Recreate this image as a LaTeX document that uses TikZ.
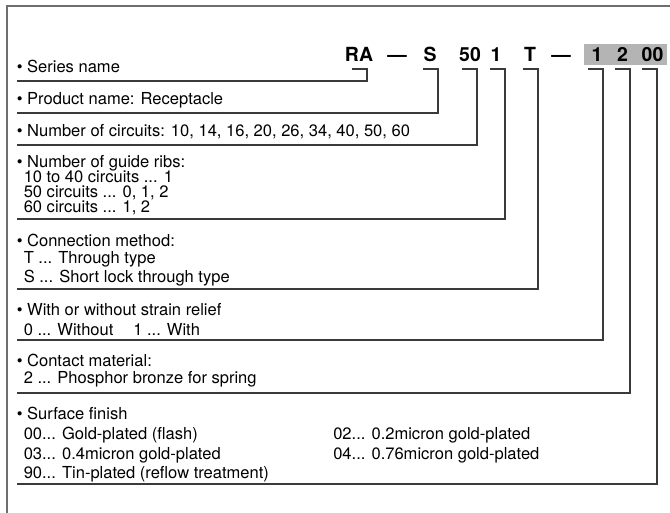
\documentclass[tikz,border=0pt]{standalone}
\usepackage{fontspec}
\setmainfont{TeX Gyre Heros}
\usepackage{xcolor}
\usepackage{tikz}

\definecolor{leadgray}{HTML}{3A3A3A}
\definecolor{framegray}{HTML}{6E6E6E}
\definecolor{boxgray}{HTML}{B4B4B4}

\begin{document}
\begin{tikzpicture}[x=0.75pt,y=-0.75pt]
        % Define styles
        \tikzset{
            desc/.style={anchor=base west, inner sep=0pt, font=\fontsize{12.4}{14}\selectfont},
            code/.style={anchor=base, inner sep=0pt, font=\fontsize{14.6}{16}\selectfont\bfseries},
            lead/.style={draw=leadgray, line width=0.8pt},
            frame/.style={draw=framegray, line width=1.1pt}
        }

        \useasboundingbox (0,0) rectangle (670,513);
        \clip (0,0) rectangle (670,513);

        % Frame
        \draw[frame] (7,6) rectangle (700,540);

        % Part number
        \fill[boxgray] (584,44) rectangle (667,65);
        \node[code] (code_ra) at (359,62) {RA};
        \node[code] (dash_1) at (397,62) {\textemdash};
        \node[code] (code_s) at (430,62) {S};
        \node[code] (code_50) at (470,62) {50};
        \node[code] (code_1) at (496,62) {1};
        \node[code] (code_t) at (530,62) {T};
        \node[code] (dash_2) at (561,62) {\textemdash};
        \node[code] (code_w) at (597,62) {1};
        \node[code] (code_2) at (622.5,62) {2};
        \node[code] (code_00) at (652.5,62) {00};

        % Descriptions
        \node[desc] (desc_1) at (16.5,73) {\textbullet\ Series name};
        \node[desc] (desc_2) at (16.5,105) {\textbullet\ Product name: Receptacle};
        \node[desc] (desc_3) at (16.5,137) {\textbullet\ Number of circuits: 10, 14, 16, 20, 26, 34, 40, 50, 60};

        \node[desc] (desc_4) at (16.5,167.5) {\textbullet\ Number of guide ribs:};
        \node[desc] (desc_4a) at (23.5,183) {10 to 40 circuits ... 1};
        \node[desc] (desc_4b) at (23.5,198) {50 circuits ... 0, 1, 2};
        \node[desc] (desc_4c) at (23.5,213) {60 circuits ... 1, 2};

        \node[desc] (desc_5) at (16.5,246) {\textbullet\ Connection method:};
        \node[desc] (desc_5a) at (23.5,263) {T ... Through type};
        \node[desc] (desc_5b) at (23.5,282) {S ... Short lock through type};

        \node[desc] (desc_6) at (16.5,315) {\textbullet\ With or without strain relief};
        \node[desc] (desc_6a) at (23.5,335) {0 ... Without};
        \node[desc] (desc_6b) at (133,335) {1 ... With};

        \node[desc] (desc_7) at (16.5,366) {\textbullet\ Contact material:};
        \node[desc] (desc_7a) at (23.5,383) {2 ... Phosphor bronze for spring};

        \node[desc] (desc_8) at (16.5,419) {\textbullet\ Surface finish};
        \node[desc] (desc_8a) at (23.5,439) {00... Gold-plated (flash)};
        \node[desc] (desc_8b) at (333,439) {02... 0.2micron gold-plated};
        \node[desc] (desc_8c) at (23.5,459) {03... 0.4micron gold-plated};
        \node[desc] (desc_8d) at (333,459) {04... 0.76micron gold-plated};
        \node[desc] (desc_8e) at (23.5,478) {90... Tin-plated (reflow treatment)};

        % Line starts and hooks
        \coordinate (line_1) at (17,81);
        \coordinate (line_2) at (17,113);
        \coordinate (line_3) at (17,145);
        \coordinate (line_4) at (17,219);
        \coordinate (line_5) at (17,289);
        \coordinate (line_6) at (17,340);
        \coordinate (line_7) at (17,393);
        \coordinate (line_8) at (17,484);
        \coordinate (hook_1) at (367,69);
        \coordinate (hook_2) at (438,69);
        \coordinate (hook_3) at (477,69);
        \coordinate (hook_4) at (505,69);
        \coordinate (hook_5) at (538,69);
        \coordinate (hook_6) at (603,69);
        \coordinate (hook_7) at (630,69);
        \coordinate (hook_8) at (657,69);

        % Leaders
        \draw[lead] (line_1) -| (hook_1) -- ++(-15,0);
        \draw[lead] (line_2) -| (hook_2) -- ++(-15,0);
        \draw[lead] (line_3) -| (hook_3) -- ++(-15,0);
        \draw[lead] (line_4) -| (hook_4) -- ++(-15,0);
        \draw[lead] (line_5) -| (hook_5) -- ++(-15,0);
        \draw[lead] (line_6) -| (hook_6) -- ++(-15,0);
        \draw[lead] (line_7) -| (hook_7) -- ++(-15,0);
        \draw[lead] (line_8) -| (hook_8) -- ++(-15,0);
    \end{tikzpicture}
\end{document}
